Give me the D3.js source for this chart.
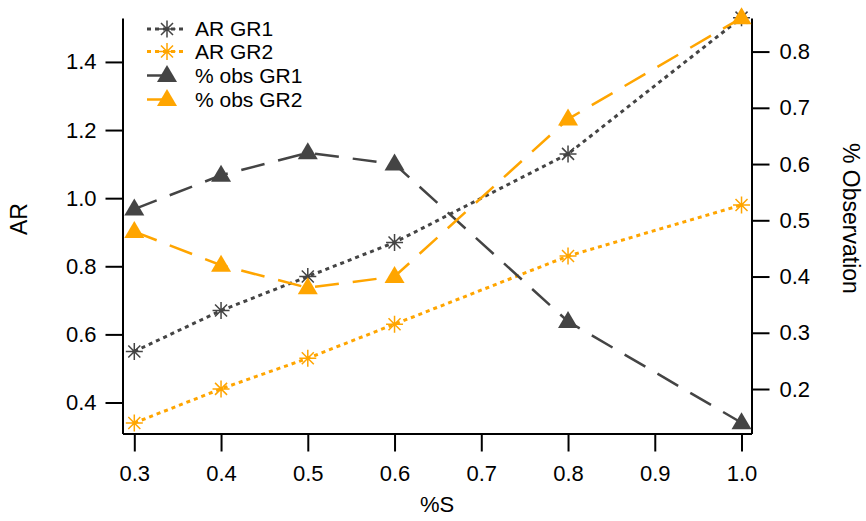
<!DOCTYPE html>
<html>
<head>
<meta charset="utf-8">
<script src="https://cdn.jsdelivr.net/npm/d3@7"></script>
<style>
  html, body { margin: 0; padding: 0; background: #fff; }
  svg { display: block; font-family: "Liberation Sans", Arial, Helvetica, sans-serif; }
</style>
</head>
<body>
<svg id="chart" width="866" height="521"></svg>
<script>
// %S values on the x axis
const sValues = [0.3, 0.4, 0.5, 0.6, 0.8, 1.0];
// AR (left axis)
const arGR1 = [0.55, 0.67, 0.77, 0.87, 1.13, 1.53];
const arGR2 = [0.34, 0.44, 0.53, 0.63, 0.83, 0.98];
// % Observation (right axis)
const obsGR1 = [0.52, 0.58, 0.62, 0.60, 0.32, 0.14];
const obsGR2 = [0.48, 0.42, 0.38, 0.40, 0.68, 0.86];

const xTicks = [0.3, 0.4, 0.5, 0.6, 0.7, 0.8, 0.9, 1.0];
const leftTicks = [0.4, 0.6, 0.8, 1.0, 1.2, 1.4];
const rightTicks = [0.2, 0.3, 0.4, 0.5, 0.6, 0.7, 0.8];

const seriesNames = ["AR GR1", "AR GR2", "% obs GR1", "% obs GR2"];

const GREY = "#444444";
const ORANGE = "#FFA500";

const svg = d3.select("#chart");
const box = { left: 122.5, right: 751.5, top: 18, bottom: 433.5 };

const x = d3.scaleLinear().domain([0.2864, 1.0115]).range([box.left, box.right]);
const yL = d3.scaleLinear().domain([0.309, 1.529]).range([box.bottom, box.top]);
const yR = d3.scaleLinear().domain([0.1209, 0.8597]).range([box.bottom, box.top]);

const FONT = 22;

function styleAxis(g) {
  g.selectAll(".domain").attr("stroke", "#000").attr("stroke-width", 2);
  g.selectAll(".tick line").attr("stroke", "#000").attr("stroke-width", 2);
  g.selectAll(".tick text").attr("fill", "#000").attr("font-size", FONT)
    .attr("font-family", "Liberation Sans, Arial, sans-serif");
}

svg.append("g")
  .attr("transform", `translate(0,${box.bottom})`)
  .call(d3.axisBottom(x).tickValues(xTicks).tickFormat(d3.format(".1f"))
    .tickSize(18).tickSizeOuter(0).tickPadding(14))
  .call(styleAxis);

svg.append("g")
  .attr("transform", `translate(${box.left},0)`)
  .call(d3.axisLeft(yL).tickValues(leftTicks).tickFormat(d3.format(".1f"))
    .tickSize(17).tickSizeOuter(0).tickPadding(9))
  .call(styleAxis);

svg.append("g")
  .attr("transform", `translate(${box.right},0)`)
  .call(d3.axisRight(yR).tickValues(rightTicks).tickFormat(d3.format(".1f"))
    .tickSize(18).tickSizeOuter(0).tickPadding(10))
  .call(styleAxis);

// axis titles
svg.append("text").attr("x", box.left + (box.right - box.left) / 2).attr("y", 512)
  .attr("text-anchor", "middle").attr("font-size", FONT).text("%S");
svg.append("text").attr("transform", "translate(27,219) rotate(-90)")
  .attr("text-anchor", "middle").attr("font-size", 23).text("AR");
svg.append("text").attr("transform", "translate(843,143) rotate(90)")
  .attr("text-anchor", "start").attr("font-size", 23).text("% Observation");

// marker shapes
function asterisk(sel, r) {
  const p = [];
  for (let i = 0; i < 4; i++) {
    const a = i * Math.PI / 4;
    p.push(`M${(-r * Math.cos(a)).toFixed(2)},${(-r * Math.sin(a)).toFixed(2)}L${(r * Math.cos(a)).toFixed(2)},${(r * Math.sin(a)).toFixed(2)}`);
  }
  sel.append("path").attr("d", p.join("")).attr("fill", "none").attr("stroke-width", 1.5);
}
const triPath = "M0,-10.5L10,6.5L-10,6.5Z";

const series = [
  { name: seriesNames[0], vals: arGR1, y: yL, color: GREY, dash: "4,4", width: 3, marker: "ast" },
  { name: seriesNames[1], vals: arGR2, y: yL, color: ORANGE, dash: "4,4", width: 3, marker: "ast" },
  { name: seriesNames[2], vals: obsGR1, y: yR, color: GREY, dash: "24,14", width: 2.5, marker: "tri" },
  { name: seriesNames[3], vals: obsGR2, y: yR, color: ORANGE, dash: "24,14", width: 2.5, marker: "tri" }
];

const plot = svg.append("g");
series.forEach(s => {
  const pts = sValues.map((v, i) => [v, s.vals[i]]);
  const line = d3.line().x(d => x(d[0])).y(d => s.y(d[1]));
  const g = plot.append("g");
  g.append("path").datum(pts).attr("d", line).attr("fill", "none")
    .attr("stroke", s.color).attr("stroke-width", s.width).attr("stroke-dasharray", s.dash);
  pts.forEach(d => {
    const m = g.append("g").attr("transform", `translate(${x(d[0])},${s.y(d[1])})`);
    if (s.marker === "ast") { asterisk(m, 8.5); m.select("path").attr("stroke", s.color); }
    else m.append("path").attr("d", triPath).attr("fill", s.color);
  });
});

// legend
const legend = svg.append("g");
const rowY = [29, 51.5, 75.5, 99.5];
series.forEach((s, i) => {
  const g = legend.append("g").attr("transform", `translate(0,${rowY[i]})`);
  g.append("line").attr("x1", 147).attr("x2", 183).attr("y1", 0).attr("y2", 0)
    .attr("stroke", s.color).attr("stroke-width", s.width).attr("stroke-dasharray", s.dash);
  const m = g.append("g").attr("transform", "translate(167,0)");
  if (s.marker === "ast") { asterisk(m, 8.5); m.select("path").attr("stroke", s.color); }
  else m.append("path").attr("d", triPath).attr("fill", s.color);
  g.append("text").attr("x", 195).attr("y", 0).attr("dy", "0.35em")
    .attr("font-size", 21).attr("fill", "#000").text(s.name);
});
</script>
</body>
</html>
